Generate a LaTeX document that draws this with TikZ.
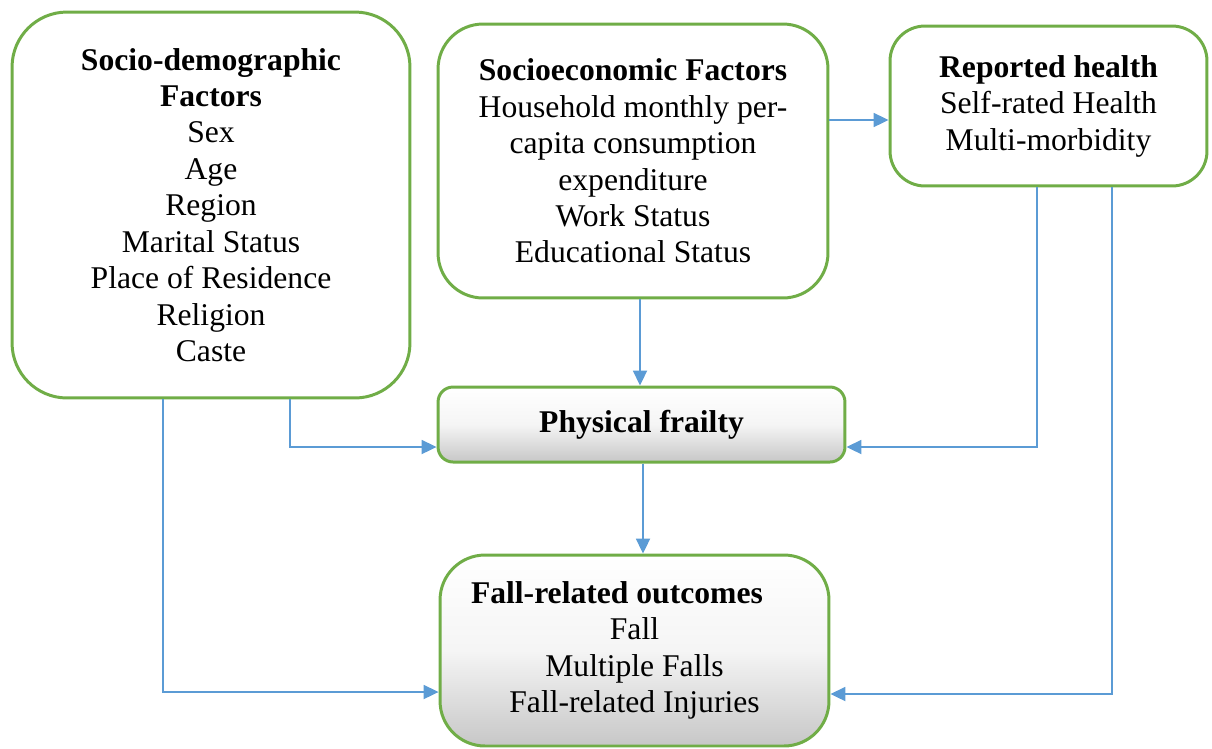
\documentclass[tikz,border=0pt]{standalone}
\usepackage{fontspec}
\setmainfont{Liberation Serif}
\usetikzlibrary{arrows.meta}
\definecolor{gr}{HTML}{70AD47}
\definecolor{bl}{HTML}{5B9BD5}
\tikzset{
 box/.style={draw=gr, line width=1.7pt, align=center, font=\fontsize{18}{20.75}\selectfont, inner sep=0pt},
 shadebox/.style={box, top color=white, bottom color=black!22, middle color=white!96!black},
 arr/.style={draw=bl, line width=0.9pt, -{Triangle[length=8.5pt,width=8pt]}}
}
\begin{document}
\begin{tikzpicture}[x=0.02cm,y=-0.02cm]
\useasboundingbox (0,0) rectangle (1212,748);
\node[box, minimum width=7.96cm, minimum height=7.72cm, rounded corners=1.1cm] (sd) at (211,205)
 {\textbf{Socio-demographic}\\\textbf{Factors}\\Sex\\Age\\Region\\Marital Status\\Place of Residence\\Religion\\Caste};
\node[box, minimum width=7.8cm, minimum height=5.48cm, rounded corners=0.9cm] (se) at (633,161)
 {\textbf{Socioeconomic Factors}\\Household monthly per-\\capita consumption\\expenditure\\Work Status\\Educational Status};
\node[box, minimum width=6.34cm, minimum height=3.2cm, rounded corners=0.7cm] (rh) at (1048.5,106)
 {\textbf{Reported health}\\Self-rated Health\\Multi-morbidity};
\node[shadebox, minimum width=8.14cm, minimum height=1.5cm, rounded corners=0.3cm] (fr) at (641.5,424.5)
 {\textbf{Physical frailty}};
\node[shadebox, minimum width=7.78cm, minimum height=3.82cm, rounded corners=0.9cm] (fo) at (634.5,650.5)
 {\textbf{Fall-related outcomes}\hspace*{20pt}\\Fall\\Multiple Falls\\Fall-related Injuries};
\coordinate (c1) at (640,0);
\coordinate (c2) at (643,0);
\coordinate (c3) at (0,120);
\coordinate (l1) at (290,447);
\coordinate (l2) at (163,692);
\coordinate (r1) at (1037,447);
\coordinate (r2) at (1112,694);
\draw[arr] (se.south -| c1) -- (fr.north -| c1);
\draw[arr] (fr.south -| c2) -- (fo.north -| c2);
\draw[arr] (se.east |- c3) -- (rh.west |- c3);
\draw[arr] (sd.south -| l1) |- (fr.west |- l1);
\draw[arr] (sd.south -| l2) |- (fo.west |- l2);
\draw[arr] (rh.south -| r1) |- (fr.east |- r1);
\draw[arr] (rh.south -| r2) |- (fo.east |- r2);
\end{tikzpicture}
\end{document}
